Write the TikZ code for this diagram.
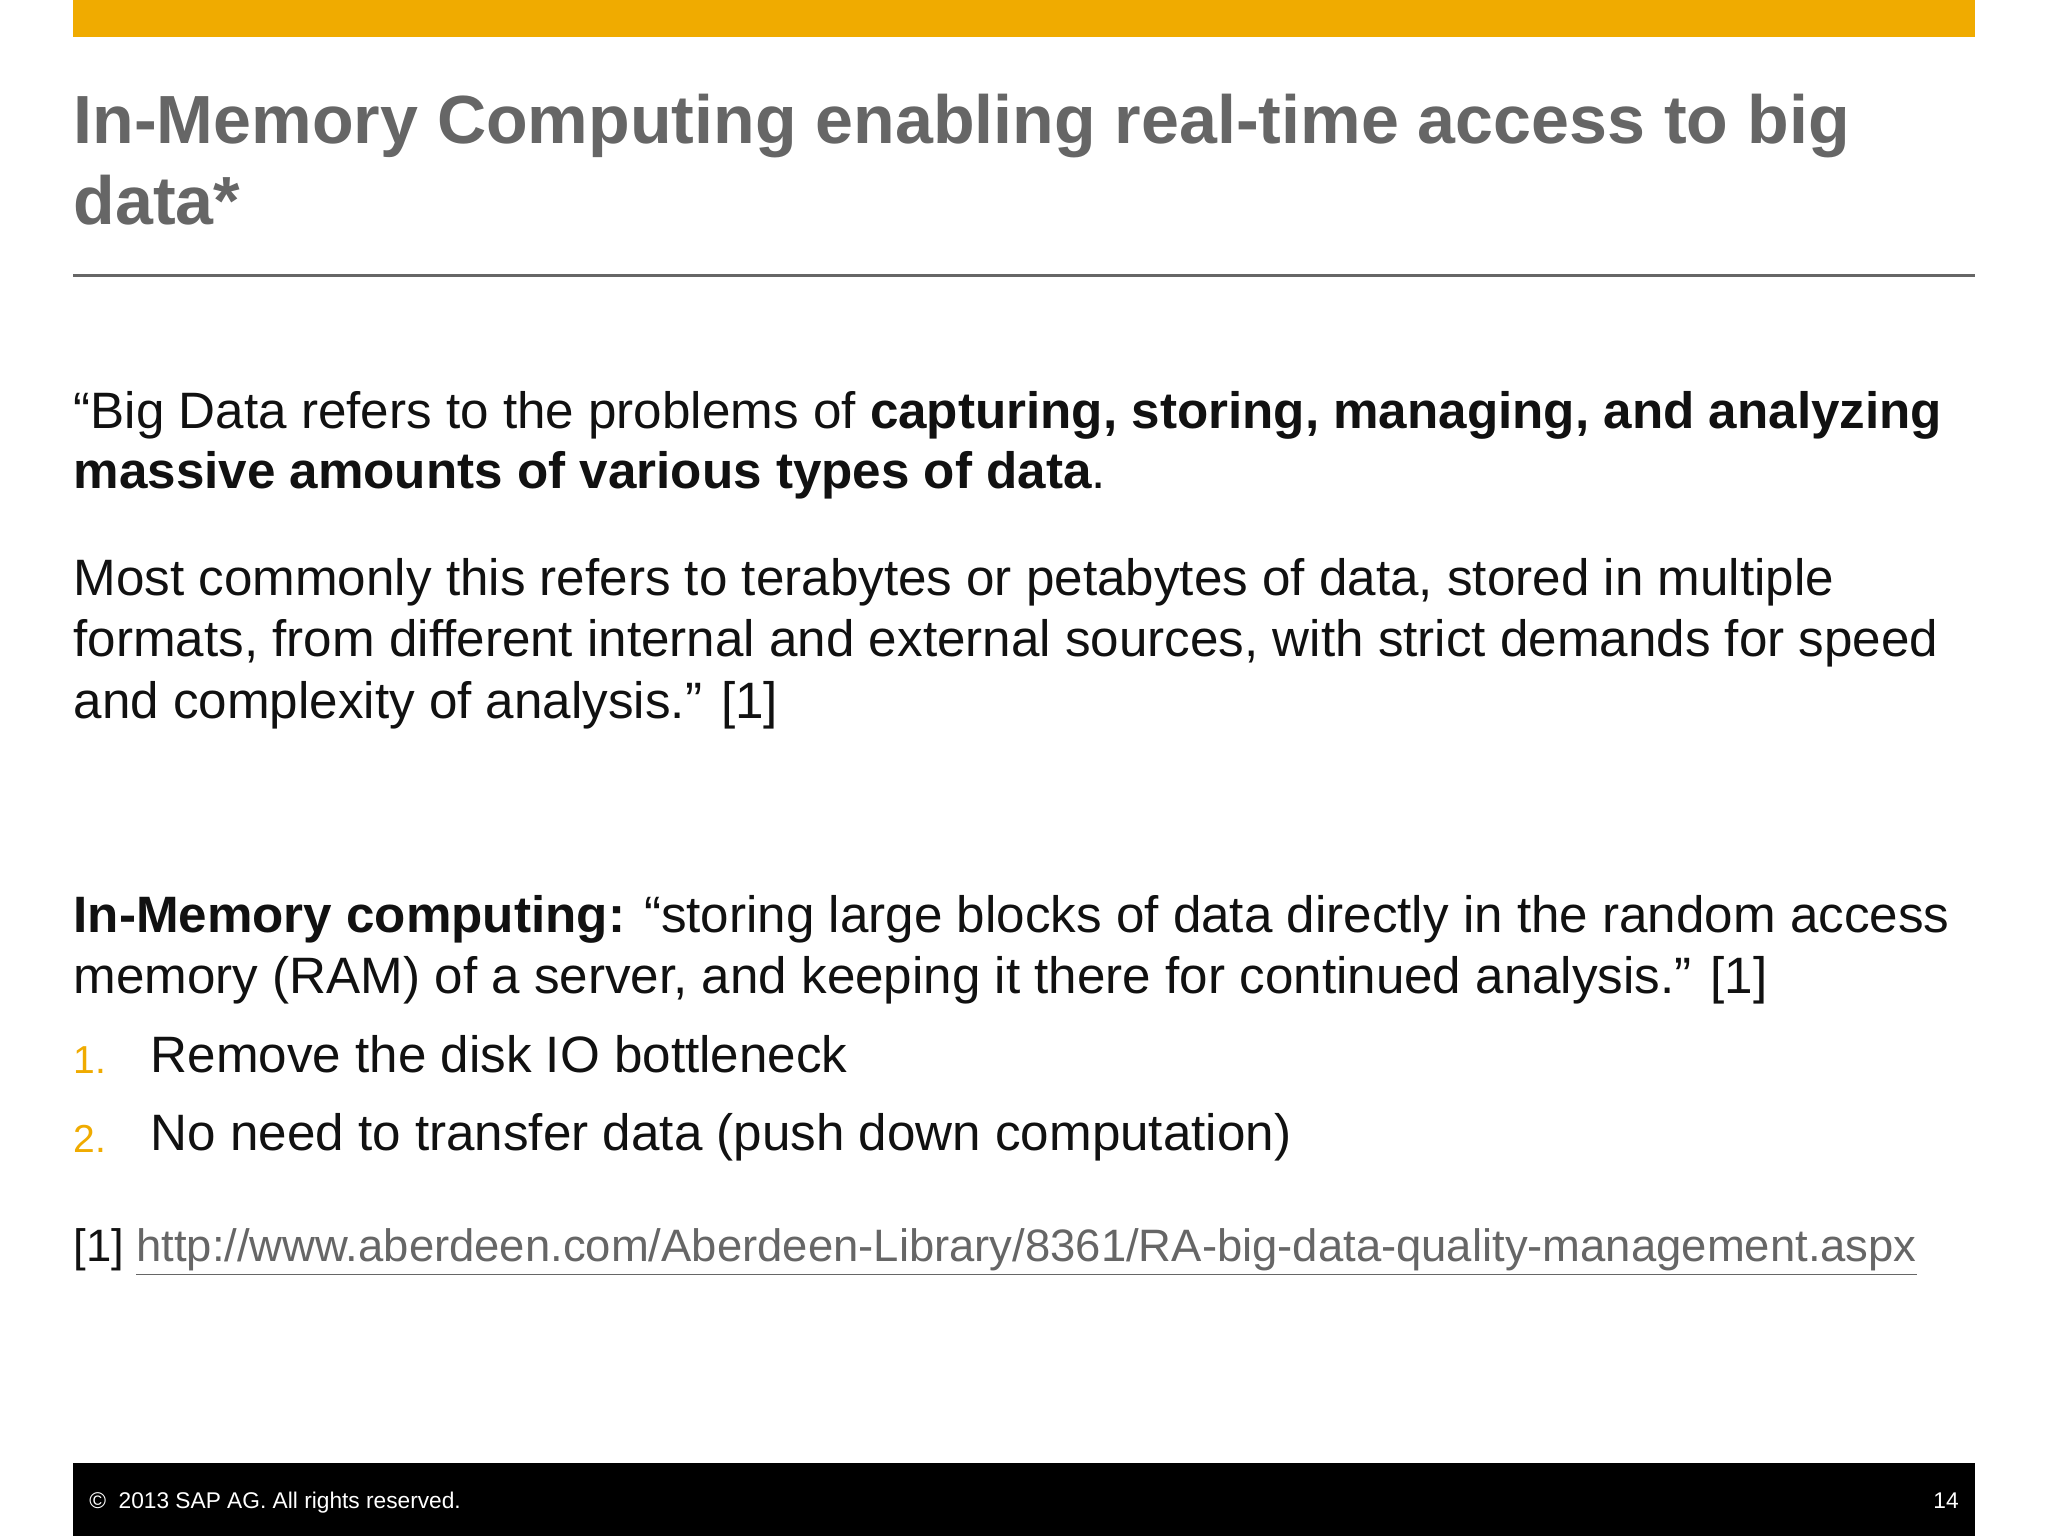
\documentclass[tikz,border=0pt]{standalone}
\usepackage{fontspec}
\setmainfont{Liberation Sans}
\definecolor{sapgold}{HTML}{F0AB00}
\definecolor{titlegray}{HTML}{666666}
\definecolor{txt}{HTML}{111111}
\begin{document}
\begin{tikzpicture}[x=0.02cm,y=-0.02cm,
  body/.style={anchor=base west,inner sep=0,text=txt,font=\fontsize{22.3}{26}\selectfont},
  ttl/.style={anchor=base west,inner sep=0,text=titlegray,font=\fontsize{29.7}{35}\selectfont\bfseries},
  num/.style={anchor=base west,inner sep=0,text=sapgold,font=\fontsize{17}{20}\selectfont}]
\useasboundingbox (0,0) rectangle (1568,1176);
\fill[white] (0,0) rectangle (1568,1176);
\fill[sapgold] (56,0) rectangle (1512,28);
\node[ttl] (t1) at (56,110) {In-Memory Computing enabling real-time access to big};
\node[ttl] (t2) at (56,172) {data*};
\draw[titlegray,line width=1pt] (56,211) -- (1512,211);
\node[body] (a1) at (56,328) {“Big Data refers to the problems of \textbf{capturing, storing, managing, and analyzing}};
\node[body] (a2) at (56,374) {\textbf{massive amounts of various types of data}.};
\node[body] (b1) at (56,456) {Most commonly this refers to terabytes or petabytes of data, stored in multiple};
\node[body] (b2) at (56,503) {formats, from different internal and external sources, with strict demands for speed};
\node[body] (b3) at (56,550) {and complexity of analysis.” [1]};
\node[body] (c1) at (56,714) {\textbf{In-Memory computing:} “storing large blocks of data directly in the random access};
\node[body] (c2) at (56,761) {memory (RAM) of a server, and keeping it there for continued analysis.” [1]};
\node[num] (n1) at (56,822) {1.};
\node[body] (l1) at (115,821) {Remove the disk IO bottleneck};
\node[num] (n2) at (56,882) {2.};
\node[body] (l2) at (115,881) {No need to transfer data (push down computation)};
\node[body,font=\fontsize{19.8}{23}\selectfont] (r0) at (56,966) {[1]};
\node[body,font=\fontsize{19.8}{23}\selectfont,text=titlegray] (r1) at (104,966) {\underline{http://www.aberdeen.com/Aberdeen-Library/8361/RA-big-data-quality-management.aspx}};
\fill[black] (56,1120) rectangle (1512,1176);
\node[anchor=base west,inner sep=0,text=white,font=\fontsize{9.9}{12}\selectfont] (f1) at (68,1155) {©\ \ 2013 SAP AG. All rights reserved.};
\node[anchor=base east,inner sep=0,text=white,font=\fontsize{9.9}{12}\selectfont] (f2) at (1500,1155) {14};
\end{tikzpicture}
\end{document}
